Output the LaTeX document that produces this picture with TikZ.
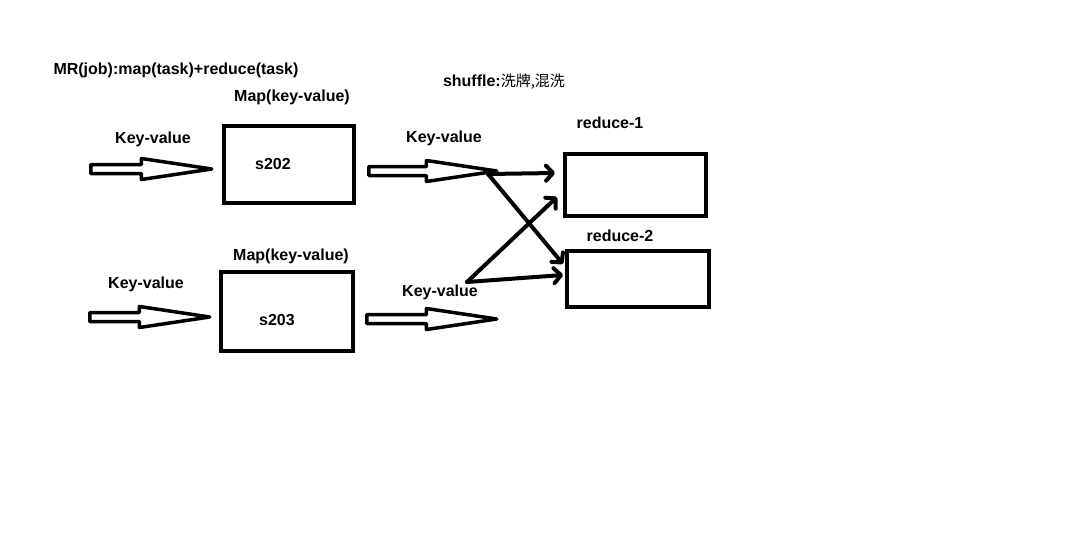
\documentclass[tikz,border=0pt]{standalone}
\usepackage{fontspec}
\setmainfont{Liberation Sans}
\newfontfamily\cjk{Noto Sans CJK SC}
\usetikzlibrary{arrows.meta,shapes.arrows}

\begin{document}
\begin{tikzpicture}[x=1pt,y=-1pt,
  txt/.style={font=\fontsize{16}{19}\selectfont\bfseries,inner sep=0pt},
  task/.style={draw,line width=4pt,inner sep=0pt},
  kv/.style={draw,line width=3.5pt,line join=round,single arrow,anchor=tail,
    single arrow head extend=6pt,single arrow tip angle=17,inner sep=0pt,
    text height=2.75pt,text depth=2.75pt,minimum height=#1},
  mix/.style={line width=4pt,line cap=round,-{Straight Barb[length=7pt,width=15pt,round]}}]

\useasboundingbox (0,0) rectangle (1073,536);

% texts
\node[txt] (title) at (176,70) {MR(job):map(task)+reduce(task)};
\node[txt] (shuffle) at (504,82) {shuffle:{\cjk\mdseries\fontsize{15}{18}\selectfont 洗牌,混洗}};
\node[txt] (map1) at (292,97) {Map(key-value)};
\node[txt] (map2) at (291,256) {Map(key-value)};
\node[txt] (red1) at (610,123) {reduce-1};
\node[txt] (red2) at (620,236) {reduce-2};
\node[txt] (kvin1) at (153,139) {Key-value};
\node[txt] (kvin2) at (146,284) {Key-value};
\node[txt] (kvout1) at (444,138) {Key-value};
\node[txt] (kvout2) at (440,292) {Key-value};

% boxes
\node[task,minimum width=130pt,minimum height=77pt] (m1) at (289,164.5) {};
\node[task,minimum width=132pt,minimum height=79pt] (m2) at (287,311.5) {};
\node[task,minimum width=141pt,minimum height=62pt] (r1) at (635.5,185) {};
\node[task,minimum width=142pt,minimum height=56pt] (r2) at (638,279) {};
\node[txt] (s202) at (273,164) {s202};
\node[txt] (s203) at (277,320) {s203};

% hollow arrows
\node[kv=121pt] (in1) at (89,169) {};
\node[kv=120pt] (in2) at (88,317) {};
\node[kv=128pt] (out1) at (367,171) {};
\node[kv=130pt] (out2) at (365,319) {};

% shuffle
\coordinate (sp1) at (488,174);
\coordinate (sp2) at (467,282);
\coordinate (t11) at (555,173);
\coordinate (t12) at (563,264);
\coordinate (t21) at (557,197);
\coordinate (t22) at (563,275);

\draw[mix] (sp1) -- (t11);
\draw[mix] (sp1) -- (t12);
\draw[mix] (sp2) -- (t21);
\draw[mix] (sp2) -- (t22);

\end{tikzpicture}
\end{document}
